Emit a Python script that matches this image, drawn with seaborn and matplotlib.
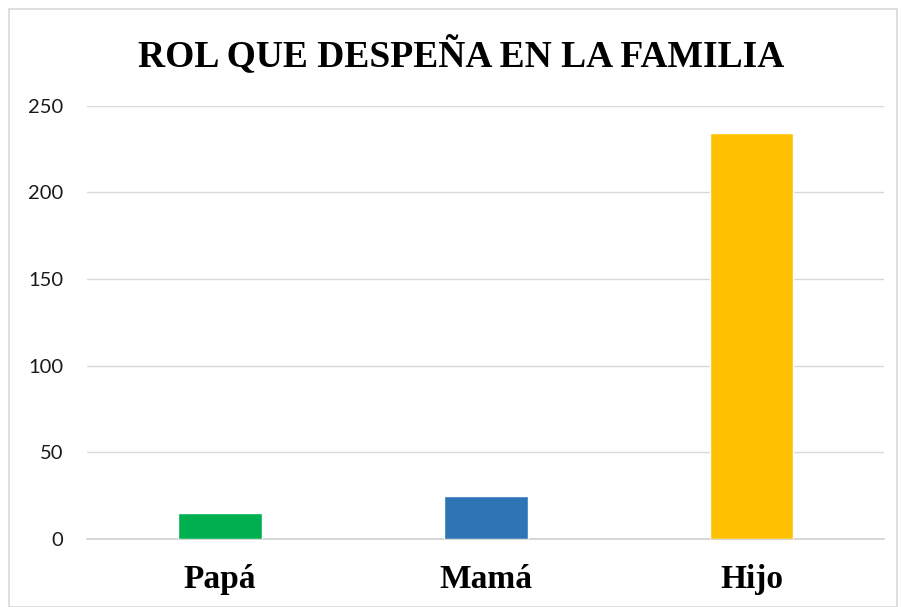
import matplotlib
matplotlib.use("Agg")
import matplotlib.pyplot as plt
import seaborn as sns
import pandas as pd

roles = ["Papá", "Mamá", "Hijo"]
counts = [15, 25, 234]
colors = ["#00B050", "#2E75B6", "#FFC000"]
yticks = [0, 50, 100, 150, 200, 250]

def plot_roles(df):
    sns.set_style("white")
    fig = plt.figure(figsize=(9.02, 6.07), dpi=100)
    ax = fig.add_axes([0.0965, 0.112, 0.884, 0.714])
    sns.barplot(data=df, x="rol", y="n", hue="rol", palette=colors,
                width=0.315, legend=False, ax=ax, saturation=1, zorder=3)
    ax.set_ylim(0, 250)
    ax.set_yticks(yticks)
    ax.set_xlim(-0.5, 2.5)
    ax.grid(axis="y", color="#d9d9d9", linewidth=1, zorder=0)
    for s in ["top", "right", "left"]:
        ax.spines[s].set_visible(False)
    ax.spines["bottom"].set_color("#d0d0d0")
    ax.spines["bottom"].set_linewidth(1.2)
    ax.set_xlabel("")
    ax.set_ylabel("")
    ax.tick_params(axis="y", length=0, pad=17, labelsize=14.5, labelcolor="#1a1a1a")
    ax.tick_params(axis="x", length=0, pad=18, labelcolor="black")
    for t in ax.get_yticklabels():
        t.set_family(["Lato", "DejaVu Sans"])
    for t in ax.get_xticklabels():
        t.set_family(["Liberation Serif", "DejaVu Serif"])
        t.set_fontweight("bold")
        t.set_fontsize(24)
    fig.text(0.511, 0.91, "ROL QUE DESPEÑA EN LA FAMILIA", ha="center", va="center",
             fontsize=27, fontweight="bold", color="black",
             family=["Liberation Serif", "DejaVu Serif"])
    border = plt.Rectangle((0.01, 0.0), 0.985, 0.985, transform=fig.transFigure,
                           fill=False, edgecolor="#d9d9d9", linewidth=1.2)
    fig.patches.append(border)
    fig.savefig("out.png", dpi=100)

def main():
    data = pd.DataFrame({"rol": roles, "n": counts})
    plot_roles(data)

if __name__ == "__main__":
    main()
